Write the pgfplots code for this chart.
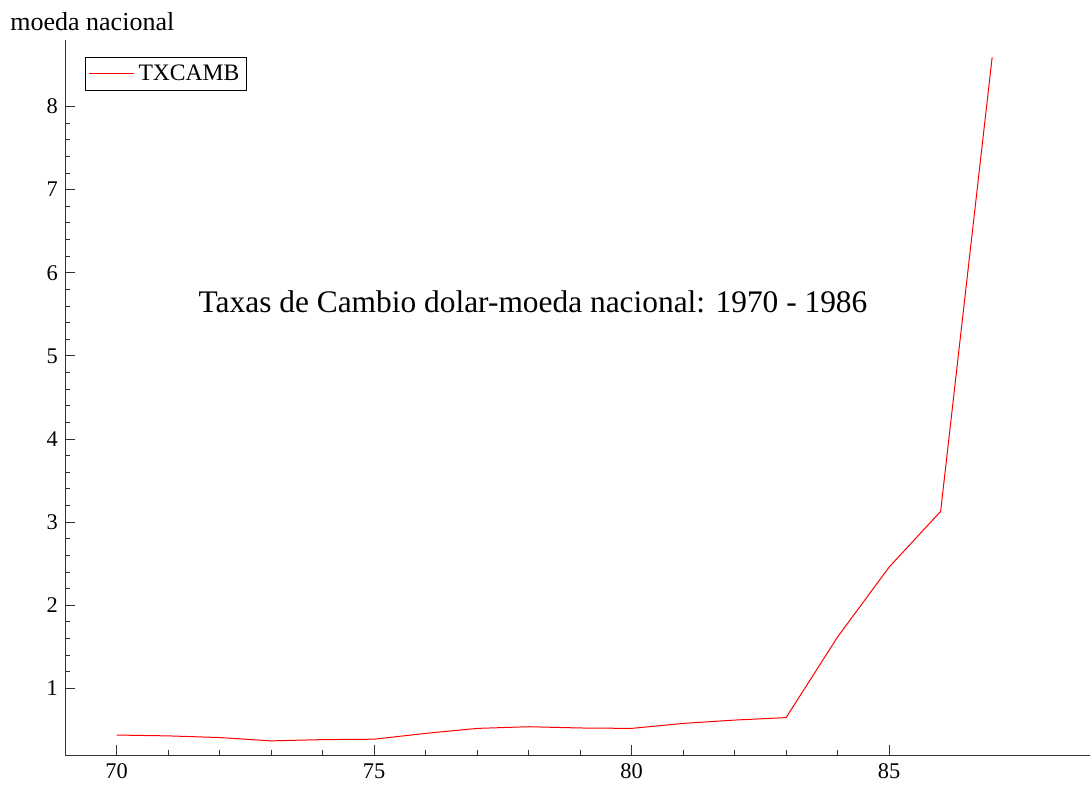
\documentclass[border=0pt]{standalone}
\usepackage{fontspec}
\setmainfont{Liberation Serif}
\usepackage{pgfplots}
\pgfplotsset{compat=1.18}
\begin{document}
\begin{tikzpicture}
% page frame: 1092 x 787 px at 0.5pt per px, axis corner at (65,755) px
\useasboundingbox (-32.5pt,-16pt) rectangle (513.5pt,377.5pt);
\begin{axis}[
  scale only axis,
  width=512.5pt, height=357.5pt,
  xmin=69, xmax=88.9,
  ymin=0.2, ymax=8.8,
  axis lines*=left,
  axis line style={line width=0.5pt, black!80},
  xtick={70,75,80,85},
  ytick={1,2,3,4,5,6,7,8},
  minor x tick num=4,
  minor y tick num=4,
  tick align=inside,
  major tick length=4.8pt,
  minor tick length=2.6pt,
  tick style={black!80, line width=0.5pt},
  tick label style={font=\fontsize{11.2}{13}\selectfont},
  xticklabel style={yshift=-1pt},
  /pgf/number format/assume math mode=true,
  legend style={at={(rel axis cs:0,1)}, anchor=north west,
    xshift=10pt, yshift=-8.5pt, draw=black, line width=0.5pt,
    font=\fontsize{11.8}{13}\selectfont, inner sep=1.5pt,
    legend cell align=left},
  legend image code/.code={\draw[#1] (0pt,0pt) -- (22.5pt,0pt);},
  clip=false,
]
\addplot[red, line width=0.5pt] coordinates {
  (70,0.44) (71,0.43) (72,0.41) (73,0.37) (74,0.385) (75,0.39)
  (76,0.46) (77,0.52) (78,0.54) (79,0.525) (80,0.52) (81,0.58)
  (82,0.62) (83,0.65) (84,1.62) (85,2.46) (86,3.13) (87,8.59)
};
\addlegendentry{TXCAMB}
\node[anchor=base west, inner sep=0pt, font=\fontsize{13}{15}\selectfont]
  at (rel axis cs:0,1) [xshift=-27.5pt, yshift=4.5pt] {moeda nacional};
\node[font=\fontsize{15.7}{18}\selectfont]
  at (rel axis cs:0.4566,0.6336) {Taxas de Cambio dolar-moeda nacional: 1970 - 1986};
\end{axis}
\end{tikzpicture}
\end{document}
